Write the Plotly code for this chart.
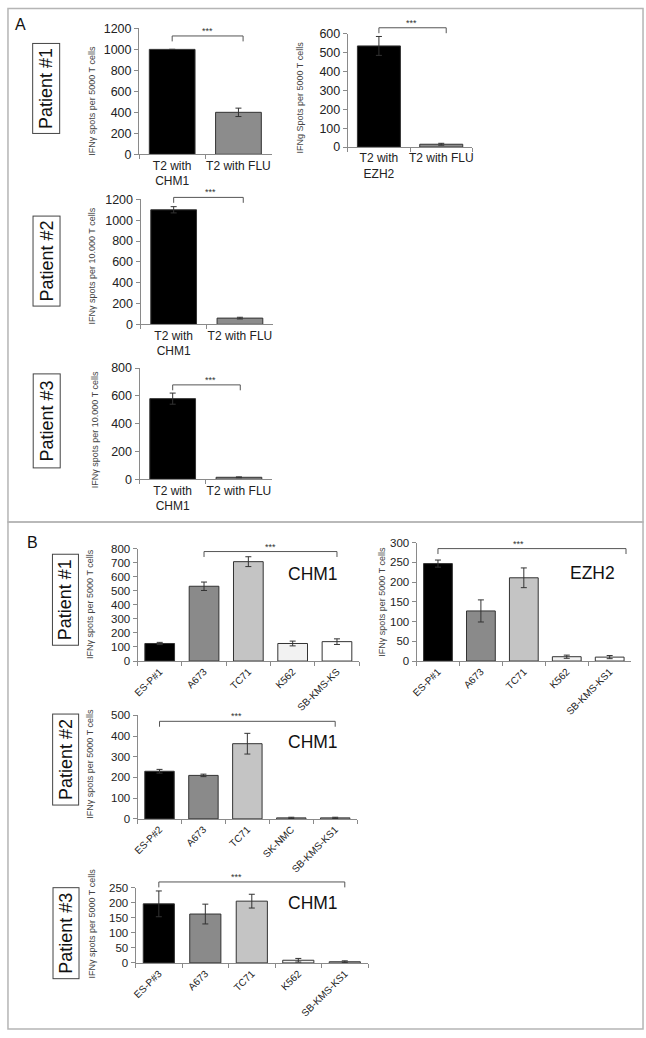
import plotly.graph_objects as go

W, H = 646, 1038
FONT = "Arial, 'Liberation Sans', Helvetica, sans-serif"

# ---------------- data ----------------
a1_categories = ["T2 with<br>CHM1", "T2 with FLU"]
a1_values = [1000, 400]
a1_errors = [0, 40]

a2_categories = ["T2 with<br>EZH2", "T2 with FLU"]
a2_values = [535, 15]
a2_errors = [50, 5]

a3_categories = ["T2 with<br>CHM1", "T2 with FLU"]
a3_values = [1100, 60]
a3_errors = [30, 8]

a4_categories = ["T2 with<br>CHM1", "T2 with FLU"]
a4_values = [580, 14]
a4_errors = [40, 3]

b1_categories = ["ES-P#1", "A673", "TC71", "K562", "SB-KMS-KS"]
b1_values = [125, 532, 707, 125, 138]
b1_errors = [8, 30, 35, 17, 20]

b2_categories = ["ES-P#1", "A673", "TC71", "K562", "SB-KMS-KS1"]
b2_values = [247, 127, 211, 11, 10]
b2_errors = [9, 28, 25, 4, 4]

b3_categories = ["ES-P#2", "A673", "TC71", "SK-NMC", "SB-KMS-KS1"]
b3_values = [230, 210, 363, 5, 5]
b3_errors = [9, 6, 50, 3, 3]

b4_categories = ["ES-P#3", "A673", "TC71", "K562", "SB-KMS-KS1"]
b4_values = [197, 163, 206, 9, 4]
b4_errors = [43, 33, 23, 6, 3]

y_titles = [
    "IFNγ spots per 5000 T cells",
    "IFNg Spots per 5000 T cells",
    "IFNγ spots per 10.000 T cells",
    "IFNγ spots per 10.000 T cells",
    "IFNγ spots per 5000 T cells",
    "IFNγ spots per 5000 T cells",
    "IFNγ spots per 5000 T cells",
    "IFNγ spots per 5000 T cells",
]
antigen_labels = ["CHM1", "EZH2", "CHM1", "CHM1"]
patient_labels = ["Patient #1", "Patient #2", "Patient #3"]

A_COLORS = ["#000000", "#8c8c8c"]
B_COLORS = ["#000000", "#8a8a8a", "#c4c4c4", "#f2f2f2", "#ffffff"]


def px_x(px):
    return px / W


def px_y(py):
    return 1 - py / H


# chart layout specs (pixel geometry)
charts = [
    dict(cats=a1_categories, vals=a1_values, errs=a1_errors, colors=A_COLORS,
         xpx=(134.5, 268.5), ypx=(21.7, 149.3), ymax=1200, dtick=200, kind="A",
         br=(0, 1.07, 1128, 0.53), title_pos=(87, 95)),
    dict(cats=a2_categories, vals=a2_values, errs=a2_errors, colors=A_COLORS,
         xpx=(345.5, 471.5), ypx=(27, 142), ymax=600, dtick=100, kind="A",
         br=(0, 1.08, 631, 0.52), title_pos=(297, 92)),
    dict(cats=a3_categories, vals=a3_values, errs=a3_errors, colors=A_COLORS,
         xpx=(136, 270), ypx=(195, 321.7), ymax=1200, dtick=200, kind="A",
         br=(0, 1.05, 1219, 0.56), title_pos=(87, 263)),
    dict(cats=a4_categories, vals=a4_values, errs=a4_errors, colors=A_COLORS,
         xpx=(135, 269), ypx=(366, 478.7), ymax=800, dtick=200, kind="A",
         br=(0, 1.02, 679, 0.57), title_pos=(90, 429)),
    dict(cats=b1_categories, vals=b1_values, errs=b1_errors, colors=B_COLORS,
         xpx=(133, 357), ypx=(549, 663), ymax=800, dtick=100, kind="B",
         br=(1, 4, 779, 2.49), title_pos=(85, 605), ag=(310, 575)),
    dict(cats=b2_categories, vals=b2_values, errs=b2_errors, colors=B_COLORS,
         xpx=(415, 632), ypx=(543, 663), ymax=300, dtick=50, kind="B",
         br=(0, 4.38, 285, 1.87), title_pos=(380, 603), ag=(593, 574)),
    dict(cats=b3_categories, vals=b3_values, errs=b3_errors, colors=B_COLORS,
         xpx=(133, 355), ypx=(718, 823), ymax=500, dtick=100, kind="B",
         br=(0, 4, 471, 1.75), title_pos=(85, 767), ag=(310, 745)),
    dict(cats=b4_categories, vals=b4_values, errs=b4_errors, colors=B_COLORS,
         xpx=(131, 366), ypx=(893, 969), ymax=250, dtick=50, kind="B",
         br=(0, 4, 270, 1.67), title_pos=(87, 929), ag=(310, 908)),
]

fig = go.Figure()
layout = dict(
    width=W, height=H, margin=dict(l=0, r=0, t=0, b=0),
    paper_bgcolor="white", plot_bgcolor="white", showlegend=False,
    font=dict(family=FONT, color="#222"),
)
shapes = []
annotations = []

ag_i = 0
for k, c in enumerate(charts):
    n = k + 1
    xa = "x" if n == 1 else f"x{n}"
    ya = "y" if n == 1 else f"y{n}"
    xkey = "xaxis" if n == 1 else f"xaxis{n}"
    ykey = "yaxis" if n == 1 else f"yaxis{n}"
    isA = c["kind"] == "A"
    fig.add_trace(go.Bar(
        x=c["cats"], y=c["vals"], xaxis=xa, yaxis=ya,
        width=0.69 if isA else 0.67,
        marker=dict(color=c["colors"], line=dict(color="#333", width=1)),
        error_y=dict(type="data", array=c["errs"], color="#333", thickness=1, width=3),
        hoverinfo="skip",
    ))
    x0p, x1p = px_x(c["xpx"][0]), px_x(c["xpx"][1])
    y0p, y1p = px_y(c["ypx"][1]), px_y(c["ypx"][0])
    layout[xkey] = dict(
        domain=[x0p, x1p], anchor=ya, type="category",
        showline=True, linecolor="#8a8a8a", linewidth=1,
        ticks="outside", tickson="boundaries", ticklen=4, tickcolor="#8a8a8a",
        tickangle=0 if isA else -45,
        tickfont=dict(size=12 if isA else 10, color="#222", family=FONT),
        showgrid=False, zeroline=False, fixedrange=True,
    )
    layout[ykey] = dict(
        domain=[y0p, y1p], anchor=xa, range=[0, c["ymax"]], dtick=c["dtick"],
        showline=True, linecolor="#8a8a8a", linewidth=1,
        ticks="outside", ticklen=4, tickcolor="#8a8a8a",
        tickfont=dict(size=12.5 if isA else 11.5, color="#222", family=FONT),
        showgrid=False, zeroline=False, fixedrange=True,
    )
    # y title
    tx, ty = c["title_pos"]
    annotations.append(dict(
        x=px_x(tx), y=px_y(ty), xref="paper", yref="paper", text=y_titles[k],
        textangle=-90, showarrow=False, xanchor="center", yanchor="middle",
        font=dict(size=9, color="#444", family=FONT)))
    # significance bracket
    n_cat = len(c["cats"])
    i0, i1, lvl, sx = c["br"]

    def cx(i, c=c, n_cat=n_cat):
        l, r = c["xpx"]
        return px_x(l + (i + 0.5) / n_cat * (r - l))

    def vy(v, c=c):
        t, b = c["ypx"]
        return px_y(b - v / c["ymax"] * (b - t))

    yl = vy(lvl)
    yd = yl - 5.5 / H
    shapes.append(dict(
        type="path", xref="paper", yref="paper",
        path=f"M {cx(i0)},{yd} L {cx(i0)},{yl} L {cx(i1)},{yl} L {cx(i1)},{yd}",
        line=dict(color="#555", width=1)))
    annotations.append(dict(
        x=cx(sx), y=yl, xref="paper", yref="paper", text="***",
        showarrow=False, xanchor="center", yanchor="bottom", yshift=-2,
        font=dict(size=9, color="#333", family=FONT)))
    if not isA:
        ax_, ay_ = c["ag"]
        annotations.append(dict(
            x=px_x(ax_), y=px_y(ay_), xref="paper", yref="paper",
            text=antigen_labels[ag_i], showarrow=False,
            xanchor="center", yanchor="middle",
            font=dict(size=17.5, color="#111", family=FONT)))
        ag_i += 1

# patient boxes
patient_boxes = [
    (0, 41, 82.5, 91, 28), (1, 41, 257.5, 91, 28), (2, 41, 419.5, 95, 28),
    (0, 60.5, 601, 92, 27), (1, 60.5, 763, 92, 27), (2, 60.5, 939, 92, 27),
]
for idx, bx, by, bl, bw in patient_boxes:
    annotations.append(dict(
        x=px_x(bx), y=px_y(by), xref="paper", yref="paper",
        text=patient_labels[idx], textangle=-90, showarrow=False,
        xanchor="center", yanchor="middle", width=bl - 2, height=bw - 2,
        bordercolor="#444", borderwidth=1, borderpad=0, bgcolor="white",
        font=dict(size=18, color="#111", family=FONT)))

# panel letters
annotations.append(dict(x=px_x(15), y=px_y(18), xref="paper", yref="paper", text="A",
                        xanchor="center", yanchor="middle", showarrow=False,
                        font=dict(size=16, color="#111", family=FONT)))
annotations.append(dict(x=px_x(27), y=px_y(543), xref="paper", yref="paper", text="B",
                        xanchor="center", yanchor="middle", showarrow=False,
                        font=dict(size=16, color="#111", family=FONT)))

# panel frames
shapes.append(dict(type="rect", xref="paper", yref="paper",
                   x0=px_x(2), x1=px_x(644), y0=px_y(522), y1=px_y(1.5),
                   line=dict(color="#b5b5b5", width=1.5)))
shapes.append(dict(type="rect", xref="paper", yref="paper",
                   x0=px_x(2), x1=px_x(644), y0=px_y(1036), y1=px_y(522),
                   line=dict(color="#b5b5b5", width=1.5)))

layout["shapes"] = shapes
layout["annotations"] = annotations
fig.update_layout(**layout)
fig.write_html(
    "out.html",
    config={"displayModeBar": False},
    post_script="document.documentElement.style.margin='0';"
                "document.body.style.margin='0';document.body.style.padding='0';"
                "document.body.style.overflow='hidden';",
)
